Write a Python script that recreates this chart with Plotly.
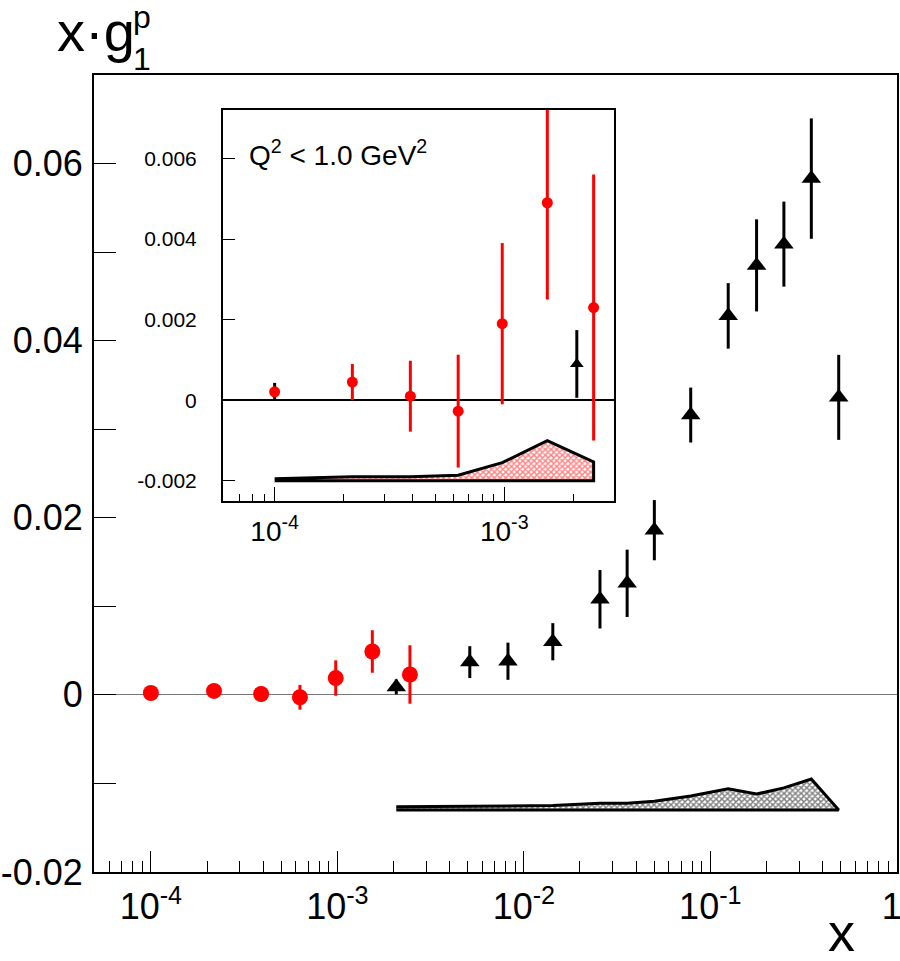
import plotly.graph_objects as go

# ---------------- data ----------------
# red points (Q^2 < 1 GeV^2)
red_x = [1.0e-4, 2.18e-4, 3.9e-4, 6.3e-4, 9.8e-4, 1.54e-3, 2.45e-3]
red_y = [0.00021, 0.00045, 0.0001, -0.00027, 0.0019, 0.0049, 0.0023]
red_err = [0.00022, 0.00045, 0.00088, 0.0014, 0.0020, 0.0024, 0.0033]
red_syst = [0.00005, 0.0001, 0.0001, 0.00014, 0.00045, 0.0010, 0.00047]

# black triangles
tri_x = [2.07e-3, 5.13e-3, 8.22e-3, 1.43e-2, 2.56e-2, 3.58e-2, 5.01e-2,
         7.85e-2, 0.1247, 0.177, 0.248, 0.348, 0.488]
tri_y = [0.0009, 0.0037, 0.0038, 0.0060, 0.0108, 0.0126, 0.0186,
         0.0316, 0.0428, 0.0485, 0.0509, 0.0583, 0.0336]
tri_err = [0.00084, 0.0018, 0.0021, 0.0021, 0.0033, 0.0038, 0.0034,
           0.0031, 0.0037, 0.0052, 0.0048, 0.0068, 0.0048]
tri_syst = [0.00037, 0.0004, 0.00045, 0.0005, 0.00075, 0.00075, 0.0010,
            0.00158, 0.0024, 0.0018, 0.0025, 0.0035, 0.0]

main_band_base = -0.013
inset_band_base = -0.002

main_xticks = [1e-4, 1e-3, 1e-2, 1e-1, 1]
main_xtext = ["10<sup>-4</sup>", "10<sup>-3</sup>", "10<sup>-2</sup>", "10<sup>-1</sup>",
              "1\u00a0"]
main_yticks = [-0.02, -0.01, 0, 0.01, 0.02, 0.03, 0.04, 0.05, 0.06]
main_ytext = ["-0.02", "", "0", "", "0.02", "", "0.04", "", "0.06"]
inset_xticks = [1e-4, 1e-3]
inset_xtext = ["10<sup>-4</sup>", "10<sup>-3</sup>"]
inset_yticks = [-0.002, 0, 0.002, 0.004, 0.006]
inset_ytext = ["-0.002", "0", "0.002", "0.004", "0.006"]

SANS = "Liberation Sans, Arial, Helvetica"

fig = go.Figure()

# ---------- main panel ----------
fig.add_trace(go.Scatter(
    x=tri_x + tri_x[::-1],
    y=[main_band_base + s for s in tri_syst] + [main_band_base] * len(tri_x),
    mode="lines", fill="toself",
    fillpattern=dict(shape="x", fgcolor="black", bgcolor="white", size=4, solidity=0.6),
    line=dict(color="black", width=3), xaxis="x", yaxis="y", hoverinfo="skip"))

fig.add_trace(go.Scatter(
    x=tri_x, y=tri_y, mode="markers",
    marker=dict(symbol="triangle-up", size=17, color="black"),
    error_y=dict(type="data", array=tri_err, color="black", thickness=3, width=0),
    xaxis="x", yaxis="y"))

fig.add_trace(go.Scatter(
    x=red_x, y=red_y, mode="markers",
    marker=dict(symbol="circle", size=16, color="#ff0000"),
    error_y=dict(type="data", array=red_err, color="#ff0000", thickness=3, width=0),
    xaxis="x", yaxis="y"))

# ---------- inset ----------
fig.add_trace(go.Scatter(
    x=red_x + red_x[::-1],
    y=[inset_band_base + s for s in red_syst] + [inset_band_base] * len(red_x),
    mode="lines", fill="toself",
    fillpattern=dict(shape="x", fgcolor="#ff0000", bgcolor="white", size=4, solidity=0.6),
    line=dict(color="black", width=3), xaxis="x2", yaxis="y2", hoverinfo="skip"))

fig.add_trace(go.Scatter(
    x=tri_x[:1], y=tri_y[:1], mode="markers",
    marker=dict(symbol="triangle-up", size=12, color="black"),
    error_y=dict(type="data", array=tri_err[:1], color="black", thickness=3, width=0),
    xaxis="x2", yaxis="y2"))

fig.add_trace(go.Scatter(
    x=red_x[:1], y=red_y[:1], mode="markers",
    marker=dict(symbol="circle", size=11, color="#ff0000"),
    error_y=dict(type="data", array=red_err[:1], color="black", thickness=3, width=0),
    xaxis="x2", yaxis="y2"))

fig.add_trace(go.Scatter(
    x=red_x[1:], y=red_y[1:], mode="markers",
    marker=dict(symbol="circle", size=11, color="#ff0000"),
    error_y=dict(type="data", array=red_err[1:], color="#ff0000", thickness=3, width=0),
    xaxis="x2", yaxis="y2"))

minor_main = [k * 10.0 ** e for e in range(-5, 0) for k in range(2, 10)]

fig.update_layout(
    width=900, height=961,
    margin=dict(l=94, r=3, t=75, b=89),
    paper_bgcolor="white", plot_bgcolor="white",
    showlegend=False,
    xaxis=dict(
        type="log", range=[-4.305, 0.001], domain=[0, 1], anchor="y",
        automargin=False, ticklabeloverflow="allow",
        showline=True, mirror=True, linecolor="black", linewidth=2,
        showgrid=False, zeroline=False,
        tickmode="array", tickvals=main_xticks, ticktext=main_xtext,
        ticks="inside", ticklen=21, tickwidth=1.3, tickcolor="black",
        minor=dict(tickmode="array", tickvals=minor_main, ticks="inside",
                   ticklen=11, tickwidth=1.3, tickcolor="black", showgrid=False),
        tickfont=dict(family=SANS, size=36, color="black"),
        ticklabelstandoff=2,
    ),
    yaxis=dict(
        range=[-0.02, 0.07], domain=[0, 1], anchor="x",
        automargin=False,
        showline=True, mirror=True, linecolor="black", linewidth=2,
        showgrid=False,
        zeroline=True, zerolinecolor="#777777", zerolinewidth=1,
        tickmode="array", tickvals=main_yticks, ticktext=main_ytext,
        ticks="inside", ticklen=22, tickwidth=1.3, tickcolor="black",
        tickfont=dict(family=SANS, size=36, color="black"),
        ticklabelstandoff=2,
    ),
    xaxis2=dict(
        type="log", range=[-4.225, -2.522], domain=[0.1606, 0.6476], anchor="y2",
        automargin=False,
        showline=True, mirror=True, linecolor="black", linewidth=2,
        showgrid=False, zeroline=False,
        tickmode="array", tickvals=inset_xticks, ticktext=inset_xtext,
        ticks="inside", ticklen=14, tickwidth=1.2, tickcolor="black",
        minor=dict(tickmode="array", tickvals=minor_main, ticks="inside",
                   ticklen=7, tickwidth=1.2, tickcolor="black", showgrid=False),
        tickfont=dict(family=SANS, size=28, color="black"),
        ticklabelstandoff=4,
    ),
    yaxis2=dict(
        range=[-0.0025, 0.0072], domain=[0.4655, 0.956], anchor="x2",
        automargin=False,
        showline=True, mirror=True, linecolor="black", linewidth=2,
        showgrid=False,
        zeroline=True, zerolinecolor="black", zerolinewidth=2,
        tickmode="array", tickvals=inset_yticks, ticktext=inset_ytext,
        ticks="inside", ticklen=12, tickwidth=1.2, tickcolor="black",
        tickfont=dict(family=SANS, size=21, color="black"),
        ticklabelstandoff=20,
    ),
    annotations=[
        dict(text="x·g", xref="paper", yref="paper", x=-0.047, y=1.054,
             xanchor="left", yanchor="middle", showarrow=False, borderpad=0,
             font=dict(family=SANS, size=56, color="black")),
        dict(text="p<br>1", xref="paper", yref="paper", x=0.047, y=1.047,
             xanchor="left", yanchor="middle", align="left", showarrow=False,
             borderpad=0, font=dict(family=SANS, size=32, color="black")),
        dict(text="x", xref="paper", yref="paper", x=0.9315, y=-0.0755,
             xanchor="center", yanchor="middle", showarrow=False, borderpad=0,
             font=dict(family=SANS, size=54, color="black")),
        dict(text="Q<sup>2</sup> < 1.0 GeV<sup>2</sup>", xref="paper", yref="paper",
             x=0.1905, y=0.9019, xanchor="left", yanchor="middle", showarrow=False,
             font=dict(family=SANS, size=28, color="black")),
    ],
)

fig.write_html(
    "out.html",
    config={"displayModeBar": False},
    post_script="document.body.style.margin='0';document.body.style.overflow='hidden';",
)
